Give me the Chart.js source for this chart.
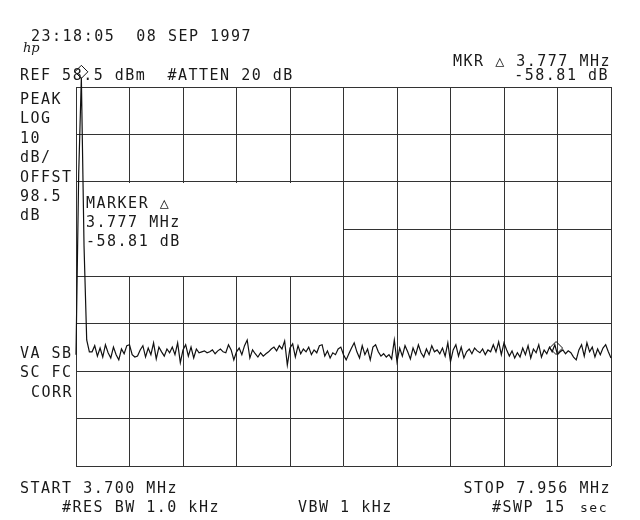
<!DOCTYPE html>
<html>
<head>
<meta charset="utf-8">
<script src="https://cdn.jsdelivr.net/npm/chart.js@4"></script>
<style>
body{margin:0;background:#fff;}
canvas{display:block;}
</style>
</head>
<body>
<canvas id="spec" width="640" height="520"></canvas>
<script>

// ===========================
// ANALYZER SETTINGS
// ===========================

const startMHz = 3.700;
const stopMHz = 7.956;
const refLevel = 58.5;      // dBm, top line
const dbPerDiv = 10;
const xDivs = 10;
const yDivs = 8;

// ===========================
// TRACE (dBm, 201 sweep points)
// ===========================

const traceLevels = [
  2.0, 40, 60.5, 25, 5.1, 2.6,
  2.6, 3.9, 1.7, 3.4, 1.5, 4.1, 2.4, 1.3, 3.6, 2.0, 0.9, 3.2, 2.2, 3.9, 4.1,
  2.0, 1.5, 1.7,
  3.0, 3.9, 1.5, 3.4, 2.0, 4.5, 1.1, 3.6, 2.6, 1.7, 3.2,
  2.4, 3.6, 2.0, 4.5, 0.3, 3.0,
  4.1, 1.7, 3.6, 1.3, 3.2, 2.4,
  2.6, 2.8, 2.4, 2.6, 3.0, 2.2, 2.8, 3.2, 2.6, 2.4,
  4.1, 3.0, 0.9, 2.6, 3.4, 2.0, 3.9, 5.1, 1.3, 3.0,
  2.2, 1.5, 2.4, 1.7, 2.2, 2.6, 3.2, 3.6,
  2.8, 3.9, 3.2, 4.9, -0.2, 3.4,
  4.3, 1.5, 3.9, 2.2, 3.2,
  2.6, 3.6, 2.0, 3.0, 2.4, 3.9, 4.1,
  1.7, 2.8, 1.3, 2.4, 2.0,
  3.2, 3.6, 2.0,
  0.9, 2.2, 3.4, 4.5, 2.6,
  1.3, 3.9, 2.0, 3.2, 0.9,
  3.6, 4.1, 2.6,
  1.7, 2.2, 1.5, 2.0, 1.1,
  5.1, 0.5, 3.4,
  1.7, 3.9, 2.6, 1.1, 3.4, 2.0, 4.1, 2.4, 1.5, 3.2, 2.0, 3.9, 2.6,
  3.0, 2.2, 3.4, 1.7, 4.5,
  0.5, 3.0, 4.1, 1.7, 3.6, 1.3,
  2.6, 3.2, 2.2, 3.4, 2.8, 2.4, 3.2, 2.0, 3.0, 2.6,
  4.1, 2.6, 4.7, 2.0, 4.5,
  3.0, 1.7, 2.8, 1.3, 2.4, 1.5,
  3.4, 2.0, 3.9, 1.3, 3.2, 2.4, 4.1, 1.5,
  3.0, 2.2, 3.6, 2.6, 4.1, 2.0,
  2.6, 3.0, 2.2, 2.8, 2.4,
  1.5, 0.9, 3.0, 4.1, 1.7,
  4.5, 2.6, 3.6, 1.5, 3.2,
  2.0, 3.4, 4.1, 2.6, 1.3
];

// marker diamonds: reference marker on the carrier, delta marker on the floor
const markerFreqs = [3.7426, 7.519];
const markerLevels = [61.7, 3.4];

// ===========================
// TEXT ANNOTATIONS
// ===========================

const headerTime = "23:18:05  08 SEP 1997";
const headerRef = "REF 58.5 dBm  #ATTEN 20 dB";
const headerMkr = ["MKR \u25B3 3.777 MHz", "-58.81 dB"];
const leftLabelsTop = ["PEAK", "LOG", "10", "dB/", "OFFST", "98.5", "dB"];
const leftLabelsBottom = ["VA SB", "SC FC", "CORR"];
const markerBox = ["MARKER \u25B3", "3.777 MHz", "-58.81 dB"];
const footer1 = ["START 3.700 MHz", "STOP 7.956 MHz"];
const footer2 = ["#RES BW 1.0 kHz", "VBW 1 kHz", "#SWP 15", "sec"];

// ===========================
// BUILD DATA
// ===========================

const stepMHz = (stopMHz - startMHz) / (traceLevels.length - 1);

const tracePoints = traceLevels.map((v, i) => ({
  x: startMHz + i * stepMHz,
  y: v
}));

const xGrid = [];
for (let k = 0; k <= xDivs; k++) {
  xGrid.push(startMHz + k * (stopMHz - startMHz) / xDivs);
}

const yGrid = [];
for (let k = 0; k <= yDivs; k++) {
  yGrid.push(refLevel - k * dbPerDiv);
}

// ===========================
// PLUGINS
// ===========================

const monoFont = "15px 'DejaVu Sans Mono'";
const inkColor = "#1a1a1a";

// white box for the marker readout, covers the grid inside it
const markerBoxPlugin = {
  id: "markerBox",
  beforeDatasetsDraw(chart) {
    const ctx = chart.ctx;
    const xs = chart.scales.x;
    const ys = chart.scales.y;
    const x0 = xs.getPixelForValue(xGrid[0]);
    const x1 = xs.getPixelForValue(xGrid[5]);
    const y0 = ys.getPixelForValue(yGrid[2]);
    const y1 = ys.getPixelForValue(yGrid[4]);
    ctx.save();
    ctx.fillStyle = "#fff";
    ctx.fillRect(Math.round(x0) + 1, Math.round(y0) + 1,
      Math.round(x1) - Math.round(x0) - 2, Math.round(y1) - Math.round(y0) - 2);
    ctx.restore();
  }
};

// marker diamonds, drawn here so the one above the top line is not dropped
const markerPlugin = {
  id: "markers",
  afterDatasetsDraw(chart) {
    const ctx = chart.ctx;
    const xs = chart.scales.x;
    const ys = chart.scales.y;
    ctx.save();
    ctx.strokeStyle = "#111";
    ctx.lineWidth = 1;
    markerFreqs.forEach((f, i) => {
      const px = xs.getPixelForValue(f);
      const py = ys.getPixelForValue(markerLevels[i]);
      const r = 6.5;
      ctx.beginPath();
      ctx.moveTo(px, py - r);
      ctx.lineTo(px + r, py);
      ctx.lineTo(px, py + r);
      ctx.lineTo(px - r, py);
      ctx.closePath();
      ctx.stroke();
    });
    ctx.restore();
  }
};

const labelsPlugin = {
  id: "labels",
  afterDraw(chart) {
    const ctx = chart.ctx;
    ctx.save();
    ctx.fillStyle = inkColor;
    ctx.font = monoFont;
    ctx.letterSpacing = "1.5px";
    ctx.textBaseline = "alphabetic";

    ctx.textAlign = "left";
    ctx.fillText(headerTime, 31, 41);
    ctx.fillText(headerRef, 20, 80);

    ctx.textAlign = "right";
    ctx.fillText(headerMkr[0], 611, 66);
    ctx.fillText(headerMkr[1], 609, 80);

    ctx.textAlign = "left";
    leftLabelsTop.forEach((t, i) => {
      ctx.fillText(t, 20, 104 + i * 19.4);
    });
    leftLabelsBottom.forEach((t, i) => {
      ctx.fillText(t, 20 + (i === 2 ? 11 : 0), 358 + i * 19.4);
    });

    markerBox.forEach((t, i) => {
      ctx.fillText(t, 86, 208 + i * 19);
    });

    ctx.fillText(footer1[0], 20, 493);
    ctx.textAlign = "right";
    ctx.fillText(footer1[1], 611, 493);

    ctx.textAlign = "left";
    ctx.fillText(footer2[0], 62, 512);
    ctx.fillText(footer2[1], 298, 512);
    ctx.fillText(footer2[2], 492, 512);
    ctx.font = "13px 'DejaVu Sans Mono'";
    ctx.fillText(footer2[3], 580, 512);

    // hp logo
    ctx.font = "italic 13px 'DejaVu Serif'";
    ctx.letterSpacing = "0px";
    ctx.fillText("hp", 23, 52);
    ctx.restore();
  }
};

// ===========================
// CHART
// ===========================

const ctx = document.getElementById("spec").getContext("2d");

const specChart = new Chart(ctx, {
  type: "line",
  data: {
    datasets: [
      {
        label: "Trace",
        data: tracePoints,
        borderColor: "#111",
        borderWidth: 1.2,
        pointRadius: 0,
        tension: 0,
        fill: false,
        clip: false
      }
    ]
  },
  options: {
    responsive: false,
    animation: false,
    layout: {
      padding: { left: 76, right: 29, top: 87, bottom: 54 }
    },
    plugins: {
      legend: { display: false },
      tooltip: { enabled: false }
    },
    scales: {
      x: {
        type: "linear",
        min: startMHz,
        max: stopMHz,
        afterBuildTicks: scale => {
          scale.ticks = xGrid.map(v => ({ value: v }));
        },
        ticks: { display: false },
        grid: { color: "#333", lineWidth: 1, drawTicks: false },
        border: { display: false }
      },
      y: {
        type: "linear",
        min: refLevel - yDivs * dbPerDiv,
        max: refLevel,
        afterBuildTicks: scale => {
          scale.ticks = yGrid.map(v => ({ value: v }));
        },
        ticks: { display: false },
        grid: { color: "#333", lineWidth: 1, drawTicks: false },
        border: { display: false }
      }
    }
  },
  plugins: [markerBoxPlugin, markerPlugin, labelsPlugin]
});

</script>
</body>
</html>
